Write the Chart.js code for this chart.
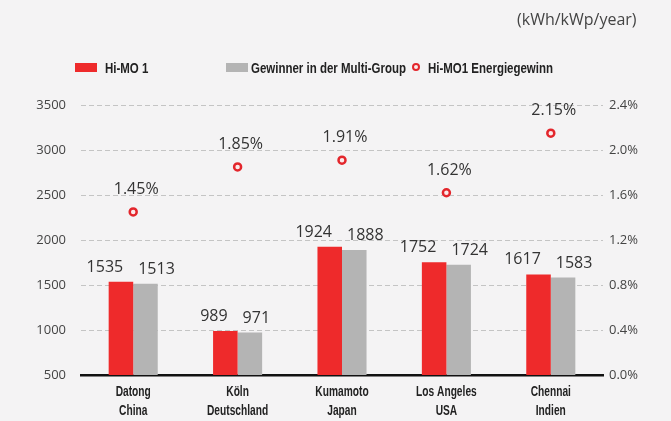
<!DOCTYPE html>
<html>
<head>
<meta charset="utf-8">
<script src="https://cdn.jsdelivr.net/npm/chart.js@4"></script>
<style>
    html, body { margin: 0; padding: 0; background: #f4f3f4; }
    #wrap { position: relative; width: 671px; height: 421px; }
    #unit { position: absolute; left: 517px; top: 8px; font: 16px "Open Sans", sans-serif; color: #444; }
    .leg { position: absolute; top: 60px; font: bold 14px "Liberation Sans", sans-serif; color: #222; white-space: nowrap; transform: scaleX(0.82); transform-origin: left top; }
    .box { position: absolute; top: 63px; width: 22px; height: 9px; }
    .dot { position: absolute; top: 63px; left: 412px; width: 4px; height: 4px; border: 2.5px solid #e3262c; border-radius: 50%; background: #fbeaea; }
</style>
</head>
<body>
<div id="wrap">
    <canvas id="chart" width="671" height="421"></canvas>
    <div id="unit">(kWh/kWp/year)</div>
    <div class="box" style="left:75px;background:#ee2a2b"></div>
    <div class="leg" style="left:105px">Hi-MO 1</div>
    <div class="box" style="left:226px;background:#b4b4b4"></div>
    <div class="leg" style="left:251px">Gewinner in der Multi-Group</div>
    <div class="dot"></div>
    <div class="leg" style="left:428px">Hi-MO1 Energiegewinn</div>
</div>
<script>
const cities = [["Datong", "China"], ["Köln", "Deutschland"], ["Kumamoto", "Japan"], ["Los Angeles", "USA"], ["Chennai", "Indien"]];
const himoValues = [1535, 989, 1924, 1752, 1617];
const multiGroupValues = [1513, 971, 1888, 1724, 1583];
const gainValues = [1.45, 1.85, 1.91, 1.62, 2.15];

const redColor = "#ee2a2b";
const grayColor = "#b4b4b4";

// numbers above bars and points
const valueLabels = {
    id: "valueLabels",
    afterDatasetsDraw(chart) {
        const ctx = chart.ctx;
        ctx.save();
        ctx.font = "16px 'Open Sans', sans-serif";
        ctx.fillStyle = "#333";
        ctx.textBaseline = "alphabetic";
        chart.getDatasetMeta(0).data.forEach((bar, i) => {
            ctx.textAlign = "right";
            ctx.fillText(himoValues[i], bar.x + bar.width / 2 - 10, bar.y - 10);
        });
        chart.getDatasetMeta(1).data.forEach((bar, i) => {
            ctx.textAlign = "left";
            ctx.fillText(multiGroupValues[i], bar.x - bar.width / 2 + 5, bar.y - 10);
        });
        chart.getDatasetMeta(2).data.forEach((pt, i) => {
            ctx.textAlign = "center";
            ctx.fillText(gainValues[i].toFixed(2) + "%", pt.x + 3, pt.y - 18);
        });
        ctx.restore();
    }
};

// condensed city names under the axis (no condensed font installed, so squeeze it)
const cityLabels = {
    id: "cityLabels",
    afterDraw(chart) {
        const ctx = chart.ctx;
        const xScale = chart.scales.x;
        const squeeze = 0.68;
        ctx.save();
        ctx.font = "bold 15px 'Liberation Sans', sans-serif";
        ctx.fillStyle = "#222";
        ctx.textAlign = "center";
        ctx.textBaseline = "alphabetic";
        cities.forEach((lines, i) => {
            const x = xScale.getPixelForValue(i);
            lines.forEach((line, j) => {
                ctx.save();
                ctx.translate(x, xScale.top + 21 + j * 19);
                ctx.scale(squeeze, 1);
                ctx.fillText(line, 0, 0);
                ctx.restore();
            });
        });
        ctx.restore();
    }
};

new Chart("chart", {
    type: "bar",
    data: {
        labels: cities,
        datasets: [{
            label: "Hi-MO 1",
            data: himoValues,
            backgroundColor: redColor,
            yAxisID: "y",
            order: 2
        }, {
            label: "Gewinner in der Multi-Group",
            data: multiGroupValues,
            backgroundColor: grayColor,
            yAxisID: "y",
            order: 2
        }, {
            type: "line",
            label: "Hi-MO1 Energiegewinn",
            data: gainValues,
            showLine: false,
            yAxisID: "y1",
            pointRadius: 3.5,
            pointBorderWidth: 2.5,
            borderColor: "#e3262c",
            backgroundColor: "#fbeaea",
            order: 1
        }]
    },
    options: {
        responsive: false,
        animation: false,
        layout: { padding: { top: 105, left: 0, right: 0, bottom: 0 } },
        datasets: {
            bar: { categoryPercentage: 0.47, barPercentage: 1 }
        },
        plugins: {
            legend: { display: false },
            tooltip: { enabled: false }
        },
        scales: {
            x: {
                grid: { display: false },
                border: { display: true, color: "#111", width: 2.5 },
                ticks: { display: false },
                afterFit: s => { s.height = 46; }
            },
            y: {
                position: "left",
                min: 500,
                max: 3500,
                ticks: {
                    stepSize: 500,
                    color: "#444",
                    padding: 15,
                    font: { family: "'Open Sans', sans-serif", size: 13 },
                    callback: v => String(v)
                },
                grid: { color: "#c4c4c4", drawTicks: false },
                border: { display: false, dash: [5, 3] },
                afterFit: s => { s.width = 81; }
            },
            y1: {
                position: "right",
                min: 0,
                max: 2.4,
                ticks: {
                    stepSize: 0.4,
                    color: "#444",
                    padding: 6,
                    font: { family: "'Open Sans', sans-serif", size: 13 },
                    callback: v => v.toFixed(1) + "%"
                },
                grid: { drawOnChartArea: false, drawTicks: false },
                border: { display: false },
                afterFit: s => { s.width = 68; }
            }
        }
    },
    plugins: [valueLabels, cityLabels]
});
</script>
</body>
</html>
